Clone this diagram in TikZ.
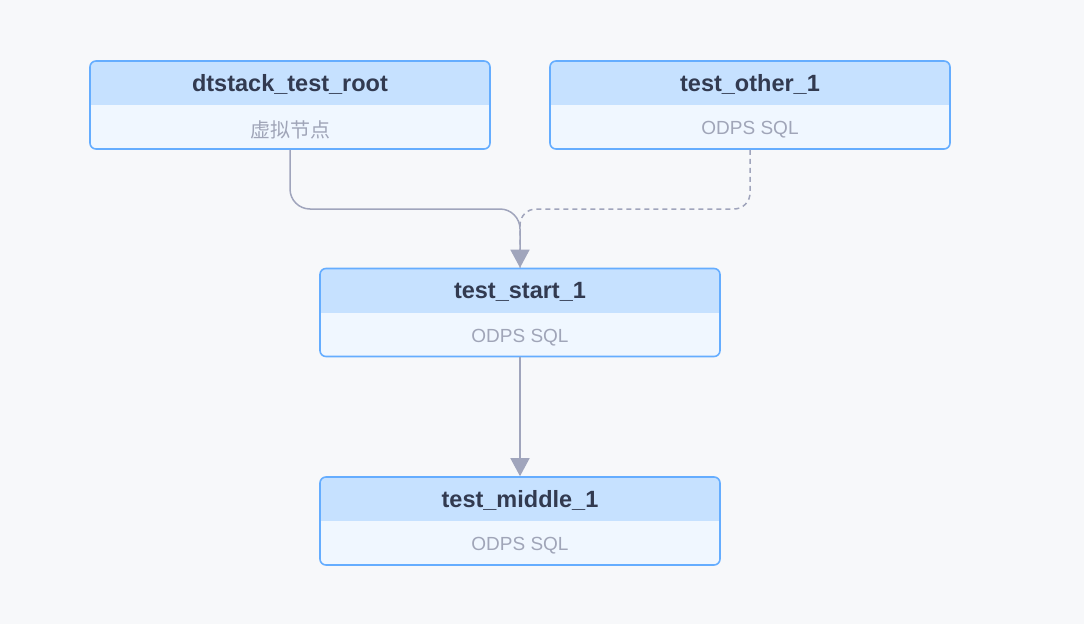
\documentclass[tikz,border=0pt]{standalone}
\usepackage{fontspec}
\setmainfont{Liberation Sans}
\newfontfamily\cjk{Noto Sans CJK SC}
\usetikzlibrary{arrows.meta}

\definecolor{canvas}{HTML}{F7F8FA}
\definecolor{headblue}{HTML}{C6E1FF}
\definecolor{bodyblue}{HTML}{F0F7FF}
\definecolor{boxline}{HTML}{65ADFF}
\definecolor{titletext}{HTML}{323A50}
\definecolor{subtext}{HTML}{A0A5B8}
\definecolor{edgegray}{HTML}{A0A5BC}

\tikzset{
  jobbox/.style={draw=boxline, line width=1.6pt, rounded corners=6pt,
    fill=bodyblue, minimum width=400pt, minimum height=88pt, inner sep=0pt,
    path picture={\fill[headblue, sharp corners] (path picture bounding box.north west)
      rectangle ([yshift=-44pt]path picture bounding box.north east);}},
  jobtitle/.style={font=\fontsize{23.5}{27}\selectfont\bfseries, text=titletext},
  jobsub/.style={font=\fontsize{19}{22}\selectfont, text=subtext},
  edge/.style={draw=edgegray, line width=1.5pt, rounded corners=20pt},
  tip/.style={-{Triangle[width=19pt,length=18pt]}}
}

\begin{document}
\begin{tikzpicture}[x=1pt, y=-1pt]

% ── Fondo ─────────────────────────────────────────────────────
\fill[canvas] (0,0) rectangle (1084,624);
\useasboundingbox (0,0) rectangle (1084,624);

% ── Cajas ─────────────────────────────────────────────────────
\node[jobbox] (root)   at (290, 105)   {};
\node[jobbox] (other)  at (750, 105)   {};
\node[jobbox] (start)  at (520, 312.5) {};
\node[jobbox] (middle) at (520, 521)   {};

% Textos: titulo arriba, tipo abajo
\node[jobtitle] (root-t)   at ([yshift=-24pt]root.north)   {dtstack\_test\_root};
\node[jobsub]   (root-s)   at ([yshift=20pt]root.south)    {\cjk\fontsize{20}{22}\selectfont 虚拟节点};
\node[jobtitle] (other-t)  at ([yshift=-24pt]other.north)  {test\_other\_1};
\node[jobsub]   (other-s)  at ([yshift=20pt]other.south)   {ODPS SQL};
\node[jobtitle] (start-t)  at ([yshift=-24pt]start.north)  {test\_start\_1};
\node[jobsub]   (start-s)  at ([yshift=20pt]start.south)   {ODPS SQL};
\node[jobtitle] (middle-t) at ([yshift=-24pt]middle.north) {test\_middle\_1};
\node[jobsub]   (middle-s) at ([yshift=20pt]middle.south)  {ODPS SQL};

% ── Conexiones ────────────────────────────────────────────────
\coordinate (join) at (520, 209);

\draw[edge, dash pattern=on 5pt off 4pt, rounded corners=16pt]
  (other.south) |- (join) -- (start.north);
\draw[edge, tip] (root.south) |- (join) -- (start.north);
\draw[edge, tip] (start.south) -- (middle.north);

\end{tikzpicture}
\end{document}
